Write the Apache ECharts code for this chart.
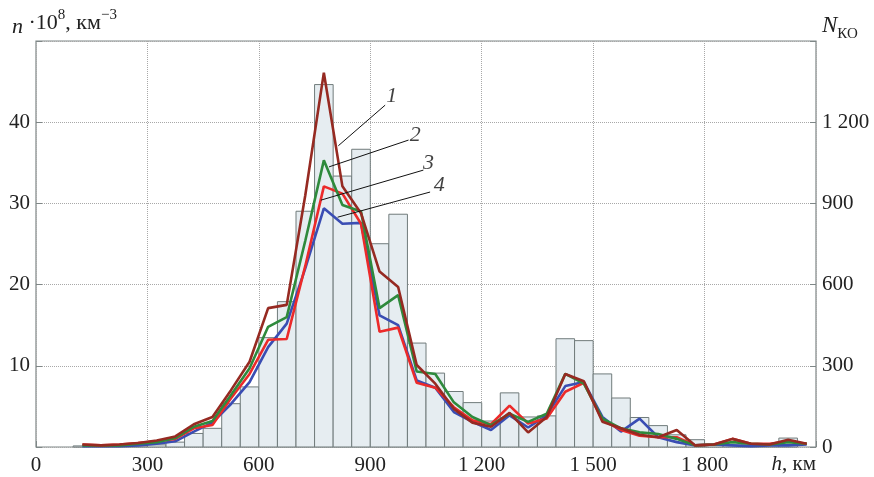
<!DOCTYPE html>
<html>
<head>
<meta charset="utf-8">
<script src="https://cdn.jsdelivr.net/npm/echarts@6/dist/echarts.min.js"></script>
<style>html,body{margin:0;padding:0;background:#fff}#c{width:874px;height:477px}</style>
</head>
<body>
<div id="c"></div>
<script>
// Histogram bins (left edge, km) and counts N_KO (right axis)
const binLeft = [100,150,200,250,300,350,400,450,500,550,600,650,700,750,800,850,900,950,1000,1050,1100,1150,1200,1250,1300,1350,1400,1450,1500,1550,1600,1650,1700,1750,1800,1850,1900,1950,2000];
const binCount = [4,2,3,4,8,18,50,69,160,222,404,537,871,1339,1001,1100,751,860,384,273,205,164,96,200,111,115,400,393,270,181,109,79,45,27,8,8,10,8,33];
const binWidth = 50;

// Density curves n·10^8 (left axis) at bin centres
const hCenters = [125,175,225,275,325,375,425,475,525,575,625,675,725,775,825,875,925,975,1025,1075,1125,1175,1225,1275,1325,1375,1425,1475,1525,1575,1625,1675,1725,1775,1825,1875,1925,1975,2025,2075];
const curve1 = [0.3,0.2,0.3,0.5,0.8,1.3,2.8,3.7,7.0,10.5,17.1,17.5,31.0,46.1,32.1,28.8,21.6,19.7,10.1,7.8,4.7,3.0,2.5,4.2,1.8,3.7,9.0,8.1,3.1,2.3,1.5,1.2,2.1,0.2,0.3,1.0,0.4,0.3,0.9,0.4];
const curve2 = [0.2,0.2,0.2,0.4,0.6,1.1,2.5,3.2,6.4,9.7,14.8,16.0,25.4,35.3,29.8,29.0,17.1,18.7,9.3,9.0,5.5,3.7,2.7,4.1,3.1,4.1,9.0,7.8,3.5,2.3,1.8,1.6,1.0,0.2,0.3,0.6,0.4,0.3,0.6,0.4];
const curve3 = [0.3,0.2,0.3,0.5,0.7,1.0,2.3,2.7,6.0,9.0,13.2,13.3,22.3,32.1,31.2,27.5,14.2,14.7,7.9,7.3,4.9,3.3,2.8,5.1,2.9,3.5,6.8,7.9,3.3,2.1,1.4,1.2,1.2,0.2,0.3,1.0,0.4,0.4,0.7,0.4];
const curve4 = [0.1,0.1,0.1,0.2,0.4,0.7,1.9,3.0,5.3,8.0,12.3,15.2,22.0,29.4,27.5,27.6,16.2,15.0,8.2,7.3,4.3,3.1,2.1,3.9,2.4,3.9,7.5,8.0,3.7,1.9,3.5,1.2,0.6,0.2,0.3,0.2,0.1,0.2,0.2,0.3];

// Curve labels and leader lines (data coordinates)
const curveNames = ['1','2','3','4'];
const leaderStart = [[814,37.1],[789,34.5],[767,30.4],[812,28.3]];
const leaderEnd = [[940,42.1],[1003,37.8],[1043,34.1],[1061,31.4]];
const labelPos = [[958,43.2],[1021,38.4],[1057,35.0],[1086,32.2]];

const xTicks = [0,300,600,900,1200,1500,1800];

const FONT = 'Liberation Serif';
const fmtNum = v => { const s = String(v); return s.length > 3 ? s.slice(0, s.length-3) + ' ' + s.slice(-3) : s; };

const bars = binLeft.map((b,i) => [b, b + binWidth, binCount[i]]);
const mk = arr => hCenters.map((h,i) => [h, arr[i]]);

const chart = echarts.init(document.getElementById('c'), null, {renderer:'canvas'});
chart.setOption({
  animation: false,
  backgroundColor: '#fff',
  grid: {left: 36, right: 58, top: 41, bottom: 30, show: true, borderColor: '#7f8787', borderWidth: 1.2, backgroundColor: 'transparent'},
  xAxis: {
    type: 'value', min: 0, max: 2100, interval: 300,
    axisLine: {show: false},
    axisTick: {show: true, inside: true, length: 6, lineStyle: {color: '#7f8787'}},
    splitLine: {show: true, lineStyle: {type: 'dotted', color: '#a8a8a8', width: 1}},
    axisLabel: {fontFamily: FONT, fontSize: 21, color: '#222', margin: 8,
      formatter: v => (xTicks.indexOf(v) >= 0 ? fmtNum(v) : '')}
  },
  yAxis: [
    {type: 'value', min: 0, max: 50, interval: 10,
     axisLine: {show: false},
     axisTick: {show: true, inside: true, length: 6, lineStyle: {color: '#7f8787'}},
     splitLine: {show: true, lineStyle: {type: 'dotted', color: '#a8a8a8', width: 1}},
     axisLabel: {fontFamily: FONT, fontSize: 21, color: '#222', margin: 6,
       formatter: v => (v === 0 || v === 50 ? '' : String(v))}},
    {type: 'value', min: 0, max: 1500, interval: 300, position: 'right',
     axisLine: {show: false},
     axisTick: {show: true, inside: true, length: 6, lineStyle: {color: '#7f8787'}},
     splitLine: {show: false},
     axisLabel: {fontFamily: FONT, fontSize: 21, color: '#222', margin: 6,
       formatter: v => (v === 1500 ? '' : fmtNum(v))}}
  ],
  series: [
    {type: 'custom', yAxisIndex: 1, data: bars, z: 1,
     encode: {x: [0,1], y: 2},
     renderItem: function(params, api) {
       const p0 = api.coord([api.value(0), api.value(2)]);
       const p1 = api.coord([api.value(1), 0]);
       return {type: 'rect', shape: {x: p0[0], y: p0[1], width: p1[0]-p0[0], height: p1[1]-p0[1]},
               style: {fill: '#e6edf1', stroke: '#707b7b', lineWidth: 1}};
     }},
    {type: 'line', name: '4', data: mk(curve4), showSymbol: false, z: 3, lineStyle: {color: '#3a4db3', width: 2.6}},
    {type: 'line', name: '3', data: mk(curve3), showSymbol: false, z: 4, lineStyle: {color: '#ec2a2a', width: 2.6}},
    {type: 'line', name: '2', data: mk(curve2), showSymbol: false, z: 5, lineStyle: {color: '#2e8a3c', width: 2.6}},
    {type: 'line', name: '1', data: mk(curve1), showSymbol: false, z: 6, lineStyle: {color: '#962a22', width: 2.6}},
    {type: 'lines', coordinateSystem: 'cartesian2d', z: 7, symbol: 'none',
     lineStyle: {color: '#111', width: 1, opacity: 1},
     data: leaderStart.map((s,i) => ({coords: [s, leaderEnd[i]]}))},
    {type: 'scatter', z: 8, symbolSize: 0,
     data: labelPos.map((p,i) => ({value: p, name: curveNames[i]})),
     label: {show: true, position: 'inside', formatter: p => p.name,
       fontFamily: FONT, fontStyle: 'italic', fontSize: 22, color: '#111'}}
  ],
  graphic: [
    {type: 'text', left: 12, top: 8, z: 10,
     style: {text: '{i|n} ·10{s|8}, км{s|−3}', fontFamily: FONT, fontSize: 22, fill: '#222',
       rich: {
         i: {fontFamily: FONT, fontStyle: 'italic', fontSize: 22, lineHeight: 30, verticalAlign: 'bottom'},
         s: {fontFamily: FONT, fontSize: 15, lineHeight: 15, verticalAlign: 'top'}
       }}},
    {type: 'text', left: 822, top: 14, z: 10,
     style: {text: '{i|N}{b|КО}', fontFamily: FONT, fontSize: 22, fill: '#222',
       rich: {
         i: {fontFamily: FONT, fontStyle: 'italic', fontSize: 23, lineHeight: 26, verticalAlign: 'top'},
         b: {fontFamily: FONT, fontSize: 15, lineHeight: 28, verticalAlign: 'bottom'}
       }}},
    {type: 'text', right: 58, top: 454, z: 10,
     style: {text: '{i|h}, км', fontFamily: FONT, fontSize: 21, fill: '#222',
       rich: {i: {fontFamily: FONT, fontStyle: 'italic', fontSize: 21}}}}
  ]
});
</script>
</body>
</html>
